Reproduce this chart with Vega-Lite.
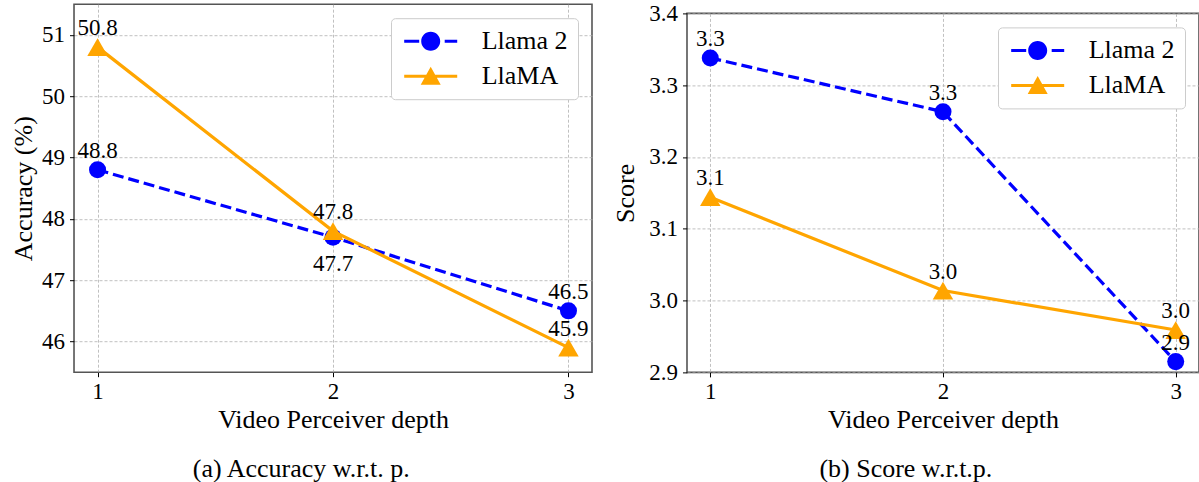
{
  "$schema": "https://vega.github.io/schema/vega-lite/v6.json",
  "padding": {"left": 9, "top": 1.2, "right": 0, "bottom": 0},
  "autosize": {"type": "pad"},
  "config": {
    "font": "Liberation Serif",
    "axis": {
      "labelFont": "Liberation Serif", "labelFontSize": 23, "labelColor": "black",
      "titleFont": "Liberation Serif", "titleFontSize": 26, "titleFontWeight": "normal", "titleColor": "black",
      "tickColor": "black", "tickSize": 4.5, "tickWidth": 1, "labelOverlap": false,
      "domain": false, "grid": true, "gridColor": "#b0b0b0", "gridDash": [3, 2], "gridWidth": 0.8
    },
    "axisX": {"labelFlush": false, "titlePadding": 3, "labelPadding": 4},
    "axisY": {"labelPadding": 5},
    "view": {"stroke": "#555555", "strokeWidth": 1.6},
    "legend": {
      "orient": "top-right", "offset": 14, "title": null,
      "fillColor": "white", "strokeColor": "#cccccc", "cornerRadius": 4, "padding": 10,
      "labelFont": "Liberation Serif", "labelFontSize": 26, "labelColor": "black",
      "symbolSize": 400, "symbolOffset": 16.7, "labelOffset": 38, "rowPadding": 9
    },
    "title": {"font": "Liberation Serif", "fontWeight": "normal", "color": "black"}
  },
  "datasets": {
    "acc": [
      {"model": "Llama 2", "depth": 1, "value": 48.8},
      {"model": "Llama 2", "depth": 2, "value": 47.7},
      {"model": "Llama 2", "depth": 3, "value": 46.5},
      {"model": "LlaMA", "depth": 1, "value": 50.8},
      {"model": "LlaMA", "depth": 2, "value": 47.8},
      {"model": "LlaMA", "depth": 3, "value": 45.9}
    ],
    "score": [
      {"model": "Llama 2", "depth": 1, "value": 3.338},
      {"model": "Llama 2", "depth": 2, "value": 3.263},
      {"model": "Llama 2", "depth": 3, "value": 2.915},
      {"model": "LlaMA", "depth": 1, "value": 3.144},
      {"model": "LlaMA", "depth": 2, "value": 3.014},
      {"model": "LlaMA", "depth": 3, "value": 2.959}
    ]
  },
  "spacing": 18,
  "resolve": {"scale": {"color": "independent"}, "legend": {"color": "independent"}},
  "hconcat": [
    {
      "width": 518, "height": 368,
      "title": {"text": "(a) Accuracy w.r.t. p.", "orient": "bottom", "anchor": "middle", "frame": "bounds", "fontSize": 26, "offset": 23},
      "data": {"name": "acc"},
      "encoding": {
        "x": {"field": "depth", "type": "quantitative", "scale": {"domain": [0.9, 3.1], "nice": false, "zero": false}, "axis": {"values": [1, 2, 3], "format": "d", "title": "Video Perceiver depth"}},
        "y": {"field": "value", "type": "quantitative", "scale": {"domain": [45.5, 51.5], "nice": false, "zero": false}, "axis": {"values": [46, 47, 48, 49, 50, 51], "format": "d", "title": "Accuracy (%)", "titlePadding": 5}}
      },
      "layer": [
        {"transform": [{"filter": "datum.model === 'Llama 2'"}], "mark": {"type": "line", "strokeWidth": 3.2, "strokeDash": [11, 5]},
         "encoding": {"color": {"field": "model", "type": "nominal", "scale": {"domain": ["Llama 2", "LlaMA"], "range": ["#0000ff", "#ffa500"]},
           "legend": {"labelFont": "Liberation Serif", "labelFontSize": 26, "encode": {"symbols": {"update": {
             "shape": {"signal": "datum.value === 'Llama 2' ? 'M-2.65,-0.15H-1.15V0.15H-2.65Z M1.4,-0.15H2.65V0.15H1.4Z M-0.95,0A0.95,0.95 0 1,0 0.95,0A0.95,0.95 0 1,0 -0.95,0Z' : 'M-2.65,-0.15H2.65V0.15H-2.65Z M0,-0.95L1,0.85L-1,0.85Z'"},
             "fill": {"signal": "datum.value === 'Llama 2' ? '#0000ff' : '#ffa500'"},
             "stroke": {"value": "transparent"}, "strokeWidth": {"value": 0}, "opacity": {"value": 1}, "fillOpacity": {"value": 1}}}}}}}},
        {"transform": [{"filter": "datum.model === 'Llama 2'"}], "mark": {"type": "point", "shape": "circle", "filled": true, "size": 290, "opacity": 1},
         "encoding": {"color": {"field": "model", "type": "nominal"}}},
        {"transform": [{"filter": "datum.model === 'LlaMA'"}], "mark": {"type": "line", "strokeWidth": 3.2},
         "encoding": {"color": {"field": "model", "type": "nominal"}}},
        {"transform": [{"filter": "datum.model === 'LlaMA'"}], "mark": {"type": "point", "shape": "triangle-up", "filled": true, "size": 420, "opacity": 1},
         "encoding": {"color": {"field": "model", "type": "nominal"}}},
        {"transform": [{"filter": "!(datum.model === 'Llama 2' && datum.depth === 2)"}], "mark": {"type": "text", "dy": -12, "baseline": "alphabetic", "fontSize": 23, "font": "Liberation Serif", "color": "black"},
         "encoding": {"text": {"field": "value", "type": "quantitative", "format": ".1f"}}},
        {"transform": [{"filter": "datum.model === 'Llama 2' && datum.depth === 2"}], "mark": {"type": "text", "dy": 34, "baseline": "alphabetic", "fontSize": 23, "font": "Liberation Serif", "color": "black"},
         "encoding": {"text": {"field": "value", "type": "quantitative", "format": ".1f"}}}
      ]
    },
    {
      "spacing": -3.8,
      "resolve": {"scale": {"color": "independent"}, "legend": {"color": "independent"}},
      "vconcat": [
        {
          "width": 512, "height": 1,
          "data": {"name": "score"},
          "mark": {"type": "point", "opacity": 0, "size": 0},
          "encoding": {},
          "view": {"stroke": null}
        },
        {
          "width": 512, "height": 359,
          "title": {"text": "(b) Score w.r.t.p.", "orient": "bottom", "anchor": "middle", "frame": "bounds", "fontSize": 26, "offset": 23},
          "data": {"name": "score"},
          "encoding": {
            "x": {"field": "depth", "type": "quantitative", "scale": {"domain": [0.9, 3.1], "nice": false, "zero": false}, "axis": {"values": [1, 2, 3], "format": "d", "title": "Video Perceiver depth"}},
            "y": {"field": "value", "type": "quantitative", "scale": {"domain": [2.9, 3.4], "nice": false, "zero": false}, "axis": {"values": [2.9, 3.0, 3.1, 3.2, 3.3, 3.4], "format": ".1f", "title": "Score", "titlePadding": 10}}
          },
          "layer": [
            {"transform": [{"filter": "datum.model === 'Llama 2'"}], "mark": {"type": "line", "strokeWidth": 3.2, "strokeDash": [11, 5]},
             "encoding": {"color": {"field": "model", "type": "nominal", "scale": {"domain": ["Llama 2", "LlaMA"], "range": ["#0000ff", "#ffa500"]},
               "legend": {"labelFont": "Liberation Serif", "labelFontSize": 26, "encode": {"symbols": {"update": {
                 "shape": {"signal": "datum.value === 'Llama 2' ? 'M-2.65,-0.15H-1.15V0.15H-2.65Z M1.4,-0.15H2.65V0.15H1.4Z M-0.95,0A0.95,0.95 0 1,0 0.95,0A0.95,0.95 0 1,0 -0.95,0Z' : 'M-2.65,-0.15H2.65V0.15H-2.65Z M0,-0.95L1,0.85L-1,0.85Z'"},
                 "fill": {"signal": "datum.value === 'Llama 2' ? '#0000ff' : '#ffa500'"},
                 "stroke": {"value": "transparent"}, "strokeWidth": {"value": 0}, "opacity": {"value": 1}, "fillOpacity": {"value": 1}}}}}}}},
            {"transform": [{"filter": "datum.model === 'Llama 2'"}], "mark": {"type": "point", "shape": "circle", "filled": true, "size": 290, "opacity": 1},
             "encoding": {"color": {"field": "model", "type": "nominal"}}},
            {"transform": [{"filter": "datum.model === 'LlaMA'"}], "mark": {"type": "line", "strokeWidth": 3.2},
             "encoding": {"color": {"field": "model", "type": "nominal"}}},
            {"transform": [{"filter": "datum.model === 'LlaMA'"}], "mark": {"type": "point", "shape": "triangle-up", "filled": true, "size": 420, "opacity": 1},
             "encoding": {"color": {"field": "model", "type": "nominal"}}},
            {"mark": {"type": "text", "dy": -12, "baseline": "alphabetic", "fontSize": 23, "font": "Liberation Serif", "color": "black"},
             "encoding": {"text": {"field": "value", "type": "quantitative", "format": ".1f"}}}
          ]
        }
      ]
    }
  ]
}
